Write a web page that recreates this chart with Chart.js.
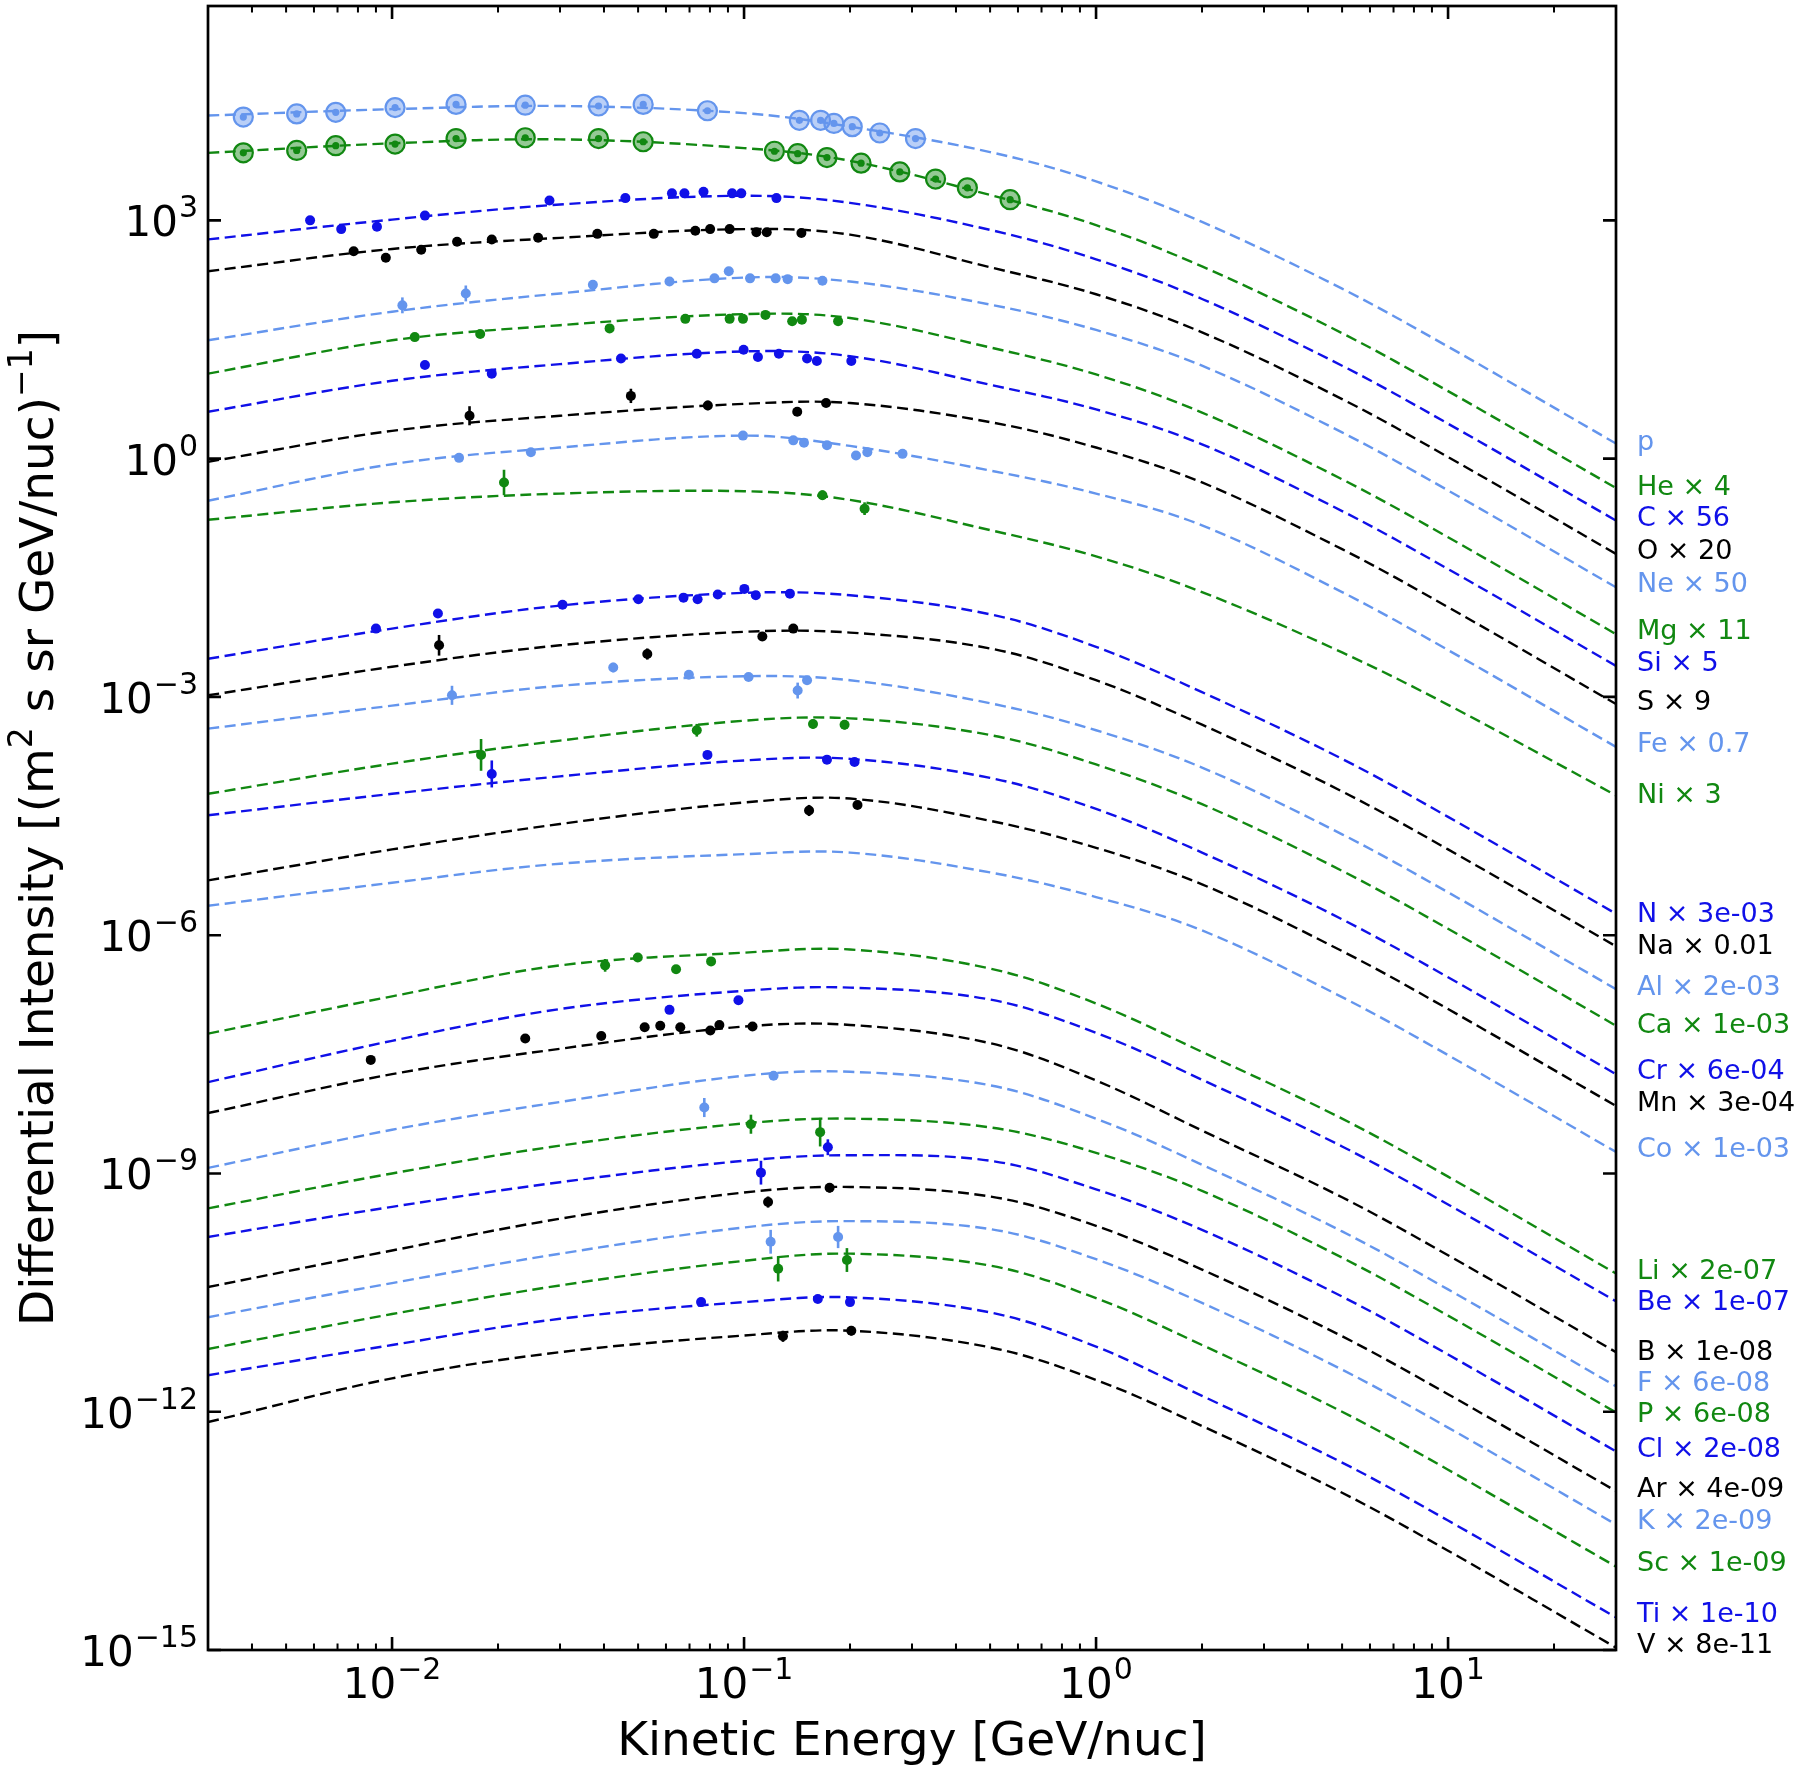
<!DOCTYPE html>
<html>
<head>
<meta charset="utf-8">
<style>
html,body{margin:0;padding:0;background:#fff;}
#wrap{width:1800px;height:1768px;position:relative;}
canvas{display:block;}
</style>
<script src="https://cdn.jsdelivr.net/npm/chart.js@4.4.1/dist/chart.umd.min.js"></script>
</head>
<body>
<div id="wrap"><canvas id="c" width="1800" height="1768"></canvas></div>
<script>
// ---------------- DATA (intensities given as log10 values) ----------------
const energyGrid = [0.003, 0.01, 0.03, 0.1, 0.2, 0.5, 1, 2, 5, 10, 30];

// Model curves: log10(intensity) at energyGrid
const curveProton = [4.32, 4.40, 4.44, 4.35, 4.18, 3.86, 3.49, 2.98, 2.14, 1.41, 0.19];
const curveHe = [3.85, 3.97, 4.02, 3.91, 3.75, 3.32, 2.94, 2.42, 1.58, 0.85, -0.37];
const curveC  = [2.76, 3.01, 3.20, 3.31, 3.22, 2.88, 2.51, 2.01, 1.17, 0.44, -0.78];
const curveO  = [2.36, 2.64, 2.78, 2.89, 2.82, 2.41, 2.07, 1.59, 0.75, 0.02, -1.20];
const curveNe = [1.49, 1.85, 2.08, 2.28, 2.23, 1.94, 1.62, 1.17, 0.33, -0.40, -1.62];
const curveMg = [1.07, 1.49, 1.68, 1.82, 1.77, 1.40, 1.06, 0.58, -0.26, -0.99, -2.21];
const curveSi = [0.59, 0.98, 1.19, 1.35, 1.29, 0.93, 0.62, 0.18, -0.66, -1.39, -2.61];
const curveS  = [-0.04, 0.35, 0.54, 0.69, 0.70, 0.46, 0.14, -0.30, -1.14, -1.87, -3.09];
const curveFe = [-0.53, -0.07, 0.14, 0.29, 0.16, -0.15, -0.44, -0.84, -1.68, -2.41, -3.63];
const curveNi = [-0.77, -0.55, -0.44, -0.41, -0.52, -0.90, -1.23, -1.68, -2.44, -3.10, -4.24];
const curveN  = [-2.52, -2.14, -1.85, -1.69, -1.72, -1.96, -2.37, -2.94, -3.78, -4.51, -5.73];
const curveNa = [-2.98, -2.62, -2.35, -2.18, -2.19, -2.39, -2.79, -3.35, -4.19, -4.92, -6.14];
const curveAl = [-3.40, -3.11, -2.86, -2.74, -2.79, -3.08, -3.42, -3.89, -4.73, -5.46, -6.68];
const curveCa = [-4.22, -3.84, -3.55, -3.30, -3.27, -3.48, -3.85, -4.35, -5.19, -5.92, -7.14];
const curveCr = [-4.49, -4.22, -4.00, -3.80, -3.78, -4.02, -4.41, -4.96, -5.80, -6.53, -7.75];
const curveMn = [-5.31, -4.92, -4.60, -4.33, -4.28, -4.56, -4.90, -5.36, -6.20, -6.93, -8.15];
const curveCo = [-5.63, -5.34, -5.10, -4.98, -4.96, -5.21, -5.52, -5.94, -6.78, -7.51, -8.73];
const curveLi = [-7.24, -6.77, -6.38, -6.22, -6.18, -6.42, -6.86, -7.47, -8.31, -9.04, -10.26];
const curveBe = [-7.85, -7.33, -6.93, -6.70, -6.66, -6.81, -7.23, -7.82, -8.66, -9.39, -10.61];
const curveB  = [-8.24, -7.75, -7.43, -7.15, -7.13, -7.36, -7.83, -8.46, -9.30, -10.03, -11.25];
const curveF  = [-8.93, -8.45, -8.10, -7.77, -7.72, -7.89, -8.31, -8.89, -9.73, -10.46, -11.68];
const curvePhos = [-9.44, -9.00, -8.65, -8.37, -8.31, -8.42, -8.74, -9.22, -10.06, -10.79, -12.01];
const curveCl = [-9.80, -9.42, -9.11, -8.84, -8.77, -8.84, -9.20, -9.71, -10.55, -11.28, -12.50];
const curveAr = [-10.43, -9.97, -9.57, -9.24, -9.17, -9.29, -9.66, -10.21, -11.05, -11.78, -13.00];
const curveK  = [-10.81, -10.38, -10.01, -9.68, -9.60, -9.70, -10.08, -10.63, -11.47, -12.20, -13.42];
const curveSc = [-11.21, -10.77, -10.41, -10.10, -10.01, -10.16, -10.57, -11.16, -12.00, -12.73, -13.95];
const curveTi = [-11.54, -11.16, -10.83, -10.62, -10.56, -10.75, -11.18, -11.80, -12.64, -13.37, -14.59];
const curveV  = [-12.13, -11.58, -11.25, -11.04, -10.98, -11.19, -11.60, -12.18, -13.02, -13.75, -14.97];

// Measurements: [energy GeV/nuc, log10(intensity), error half-width in dex]
const obsProton = [[0.00378,4.30],[0.00536,4.34],[0.00692,4.36],[0.0102,4.42],[0.0152,4.46],[0.0239,4.45],[0.0386,4.44],[0.0517,4.46],[0.0787,4.38],[0.1436,4.26],[0.165,4.26],[0.180,4.22],[0.203,4.18],[0.243,4.10],[0.307,4.03]];
const obsHe = [[0.00378,3.85],[0.00536,3.88],[0.00692,3.94],[0.0102,3.96],[0.0152,4.03],[0.0239,4.04],[0.0386,4.03],[0.0517,3.99],[0.122,3.87],[0.142,3.84],[0.172,3.79],[0.215,3.72],[0.277,3.61],[0.350,3.52],[0.431,3.41],[0.570,3.26]];
const obsC = [[0.00585,3.00],[0.00717,2.89],[0.00906,2.92],[0.0124,3.06],[0.0280,3.25],[0.0460,3.28],[0.0624,3.34],[0.0677,3.34],[0.0767,3.36],[0.0925,3.34],[0.0982,3.34],[0.1236,3.28]];
const obsO = [[0.00778,2.61],[0.00960,2.53],[0.0121,2.63],[0.0153,2.73],[0.0192,2.76],[0.0260,2.78],[0.0383,2.83],[0.0554,2.83],[0.0727,2.87],[0.0801,2.89],[0.0910,2.89],[0.1084,2.85],[0.116,2.85],[0.1455,2.84]];
const obsNe = [[0.0107,1.93,0.10],[0.0162,2.08,0.10],[0.0372,2.19],[0.0614,2.23],[0.0824,2.27],[0.0905,2.36,0.05],[0.104,2.27],[0.123,2.27],[0.133,2.26],[0.167,2.24]];
const obsMg = [[0.0116,1.53],[0.0178,1.57],[0.0415,1.64],[0.0681,1.76],[0.0910,1.76],[0.0993,1.76],[0.115,1.81],[0.137,1.73],[0.146,1.75],[0.185,1.73]];
const obsSi = [[0.0124,1.18],[0.0192,1.07],[0.0447,1.26],[0.0734,1.32],[0.0997,1.37],[0.1095,1.28],[0.1256,1.32],[0.151,1.26],[0.161,1.23],[0.2017,1.23]];
const obsS = [[0.0166,0.54,0.12],[0.0477,0.79,0.09],[0.0789,0.67,0.06],[0.1416,0.59],[0.171,0.70]];
const obsFe = [[0.0155,0.01],[0.0248,0.08],[0.0993,0.29],[0.138,0.23],[0.148,0.20],[0.172,0.17,0.05],[0.208,0.04],[0.224,0.08],[0.282,0.06]];
const obsNi = [[0.0208,-0.30,0.16],[0.167,-0.46,0.06],[0.220,-0.63,0.08]];
const obsN = [[0.0090,-2.14],[0.0135,-1.95],[0.0305,-1.84],[0.0501,-1.77],[0.0673,-1.75],[0.0738,-1.77],[0.0842,-1.71],[0.1002,-1.64],[0.108,-1.72],[0.135,-1.70]];
const obsNa = [[0.0136,-2.35,0.13],[0.0531,-2.46,0.07],[0.1127,-2.24],[0.138,-2.14]];
const obsAl = [[0.0148,-2.98,0.12],[0.0425,-2.63,0.06],[0.0697,-2.72],[0.103,-2.75],[0.142,-2.92,0.10],[0.151,-2.79]];
const obsCa = [[0.0179,-3.73,0.20],[0.0734,-3.42,0.08],[0.157,-3.34,0.06],[0.193,-3.35,0.06]];
const obsCr = [[0.0192,-3.97,0.17],[0.0787,-3.73],[0.172,-3.79],[0.206,-3.82]];
const obsMn = [[0.153,-4.43,0.07],[0.210,-4.36,0.05]];
const obsCo = [];
const obsLi = [[0.0403,-6.38,0.08],[0.0499,-6.28],[0.0641,-6.43,0.05],[0.0806,-6.33,0.05]];
const obsBe = [[0.0614,-6.94,0.05],[0.0964,-6.82]];
const obsB = [[0.0087,-7.57],[0.0239,-7.30],[0.0393,-7.27],[0.0522,-7.16],[0.0578,-7.14],[0.0659,-7.16],[0.0802,-7.20],[0.0851,-7.13],[0.1057,-7.15]];
const obsF = [[0.0771,-8.17,0.12],[0.1213,-7.77,0.05]];
const obsPhos = [[0.1046,-8.38,0.12],[0.1645,-8.48,0.18]];
const obsCl = [[0.1117,-8.99,0.15],[0.173,-8.67,0.10]];
const obsAr = [[0.117,-9.36,0.07],[0.175,-9.18,0.06]];
const obsK = [[0.119,-9.86,0.15],[0.185,-9.80,0.14]];
const obsSc = [[0.125,-10.20,0.16],[0.196,-10.09,0.15]];
const obsTi = [[0.0755,-10.62,0.05],[0.162,-10.58],[0.200,-10.62]];
const obsV = [[0.129,-11.05,0.07],[0.2017,-10.98,0.06]];

// Series labels (right margin) and the log10 intensity level each label sits at
const seriesLabels = ['p','He × 4','C × 56','O × 20','Ne × 50','Mg × 11','Si × 5','S × 9','Fe × 0.7','Ni × 3',
  'N × 3e-03','Na × 0.01','Al × 2e-03','Ca × 1e-03','Cr × 6e-04','Mn × 3e-04','Co × 1e-03',
  'Li × 2e-07','Be × 1e-07','B × 1e-08','F × 6e-08','P × 6e-08','Cl × 2e-08','Ar × 4e-09','K × 2e-09','Sc × 1e-09','Ti × 1e-10','V × 8e-11'];
const labelLevels = [0.23,-0.33,-0.72,-1.136,-1.551,-2.143,-2.546,-3.037,-3.566,-4.209,
  -5.708,-6.111,-6.627,-7.106,-7.685,-8.088,-8.668,
  -10.204,-10.595,-11.225,-11.615,-12.006,-12.447,-12.95,-13.353,-13.882,-14.524,-14.915];

// Axis ticks and titles
const yTickExps = [3, 0, -3, -6, -9, -12, -15];
const xTickExps = [-2, -1, 0, 1];
const xTitle = 'Kinetic Energy [GeV/nuc]';
const yTitleParts = [['Differential Intensity [(m', 0], ['2', 1], [' s sr GeV/nuc)', 0], ['\u22121', 1], [']', 0]];

const curves = [curveProton,curveHe,curveC,curveO,curveNe,curveMg,curveSi,curveS,curveFe,curveNi,
  curveN,curveNa,curveAl,curveCa,curveCr,curveMn,curveCo,
  curveLi,curveBe,curveB,curveF,curvePhos,curveCl,curveAr,curveK,curveSc,curveTi,curveV];
const observations = [obsProton,obsHe,obsC,obsO,obsNe,obsMg,obsSi,obsS,obsFe,obsNi,
  obsN,obsNa,obsAl,obsCa,obsCr,obsMn,obsCo,
  obsLi,obsBe,obsB,obsF,obsPhos,obsCl,obsAr,obsK,obsSc,obsTi,obsV];

// ---------------- STYLE ----------------
const palette = ['#6495ed', '#118811', '#1010e8', '#000000'];
const FONT = "'DejaVu Sans', 'Liberation Sans', sans-serif";
function rgba(hex, a) {
  const n = parseInt(hex.slice(1), 16);
  return `rgba(${(n>>16)&255},${(n>>8)&255},${n&255},${a})`;
}

const datasets = [];
curves.forEach((cv, i) => {
  const col = palette[i % 4];
  datasets.push({
    label: 'model ' + i,
    data: energyGrid.map((e, k) => ({ x: e, y: Math.pow(10, cv[k]) })),
    showLine: true, pointRadius: 0, borderColor: col, borderWidth: 2.4,
    borderDash: [11, 5.5], tension: 0.35, fill: false, order: 10
  });
});
observations.forEach((ob, i) => {
  if (!ob.length) return;
  const col = palette[i % 4];
  const pts = ob.map(p => ({ x: p[0], y: Math.pow(10, p[1]), err: p[2] || 0 }));
  if (i < 2) {
    datasets.push({ label: 'ring ' + i, data: pts, showLine: false, pointRadius: 9.5,
      pointBackgroundColor: rgba(col, 0.45), pointBorderColor: col, pointBorderWidth: 2.2, order: 1 });
    datasets.push({ label: 'dot ' + i, data: pts, showLine: false, pointRadius: 3.6,
      pointBackgroundColor: col, pointBorderWidth: 0, order: 0 });
  } else {
    datasets.push({ label: 'obs ' + i, data: pts, showLine: false, pointRadius: 5,
      pointBackgroundColor: col, pointBorderColor: col, pointBorderWidth: 0, order: 0,
      errColor: col, hasErr: true });
  }
});

const BASE_PX = 42, SUP_PX = 30, SUP_RAISE = 19;
function drawPow(ctx, exp, x, baseY, align) {
  const base = '10';
  const sup = exp < 0 ? '\u2212' + Math.abs(exp) : String(exp);
  ctx.font = `${BASE_PX}px ${FONT}`;
  const w1 = ctx.measureText(base).width;
  ctx.font = `${SUP_PX}px ${FONT}`;
  const w2 = ctx.measureText(sup).width;
  let x0 = align === 'right' ? x - w1 - w2 - 1 : x - (w1 + w2 + 1) / 2;
  ctx.textAlign = 'left'; ctx.textBaseline = 'alphabetic';
  ctx.font = `${BASE_PX}px ${FONT}`;
  ctx.fillText(base, x0, baseY);
  ctx.font = `${SUP_PX}px ${FONT}`;
  ctx.fillText(sup, x0 + w1 + 1, baseY - SUP_RAISE);
}

const decor = {
  id: 'decor',
  afterDatasetsDraw(chart) {
    const { ctx, chartArea: a, scales: { x, y } } = chart;
    ctx.save();
    ctx.beginPath(); ctx.rect(a.left, a.top, a.right - a.left, a.bottom - a.top); ctx.clip();
    chart.data.datasets.forEach(ds => {
      if (!ds.hasErr) return;
      ctx.strokeStyle = ds.errColor; ctx.lineWidth = 2.6;
      ds.data.forEach(p => {
        if (!p.err) return;
        const lv = Math.log10(p.y);
        const px = x.getPixelForValue(p.x);
        ctx.beginPath();
        ctx.moveTo(px, y.getPixelForValue(Math.pow(10, lv + p.err)));
        ctx.lineTo(px, y.getPixelForValue(Math.pow(10, lv - p.err)));
        ctx.stroke();
      });
    });
    ctx.restore();
  },
  afterDraw(chart) {
    const { ctx, chartArea: a, scales: { x, y } } = chart;
    ctx.save();
    ctx.strokeStyle = '#000'; ctx.fillStyle = '#000';
    // frame
    ctx.lineWidth = 2.7;
    ctx.strokeRect(a.left, a.top, a.right - a.left, a.bottom - a.top);
    // y major ticks (both sides, inward)
    ctx.lineWidth = 2.6;
    yTickExps.forEach(e => {
      const py = y.getPixelForValue(Math.pow(10, e));
      ctx.beginPath(); ctx.moveTo(a.left, py); ctx.lineTo(a.left + 13, py);
      ctx.moveTo(a.right, py); ctx.lineTo(a.right - 13, py); ctx.stroke();
      drawPow(ctx, e, a.left - 10, py + 16, 'right');
    });
    // x major ticks
    xTickExps.forEach(e => {
      const px = x.getPixelForValue(Math.pow(10, e));
      ctx.lineWidth = 2.6;
      ctx.beginPath(); ctx.moveTo(px, a.bottom); ctx.lineTo(px, a.bottom - 13);
      ctx.moveTo(px, a.top); ctx.lineTo(px, a.top + 13); ctx.stroke();
      drawPow(ctx, e, px, a.bottom + 48, 'center');
    });
    // x minor ticks
    ctx.lineWidth = 2;
    for (let k = -3; k <= 1; k++) {
      for (let m = 2; m <= 9; m++) {
        const v = m * Math.pow(10, k);
        if (v <= x.min * 1.0001 || v >= x.max * 0.9999) continue;
        const px = x.getPixelForValue(v);
        ctx.beginPath(); ctx.moveTo(px, a.bottom); ctx.lineTo(px, a.bottom - 6.5);
        ctx.moveTo(px, a.top); ctx.lineTo(px, a.top + 6.5); ctx.stroke();
      }
    }
    // x title
    ctx.font = `47px ${FONT}`; ctx.textAlign = 'center'; ctx.textBaseline = 'alphabetic';
    ctx.fillText(xTitle, (a.left + a.right) / 2, 1755);
    // y title (rotated, with superscripts)
    let total = 0;
    yTitleParts.forEach(p => { ctx.font = (p[1] ? '33px ' : '47px ') + FONT; total += ctx.measureText(p[0]).width; });
    ctx.save();
    ctx.translate(53, (a.top + a.bottom) / 2);
    ctx.rotate(-Math.PI / 2);
    let cx = -total / 2;
    ctx.textAlign = 'left';
    yTitleParts.forEach(p => {
      ctx.font = (p[1] ? '33px ' : '47px ') + FONT;
      ctx.fillText(p[0], cx, p[1] ? -21 : 0);
      cx += ctx.measureText(p[0]).width;
    });
    ctx.restore();
    // series labels on the right
    ctx.font = `27px ${FONT}`; ctx.textAlign = 'left'; ctx.textBaseline = 'alphabetic';
    seriesLabels.forEach((t, i) => {
      ctx.fillStyle = palette[i % 4];
      const py = y.getPixelForValue(Math.pow(10, labelLevels[i]));
      ctx.fillText(t, a.right + 21, py + 10);
    });
    ctx.restore();
  }
};

new Chart(document.getElementById('c'), {
  type: 'scatter',
  data: { datasets },
  options: {
    responsive: false, animation: false, devicePixelRatio: 1, events: [],
    layout: { autoPadding: false, padding: { left: 208, right: 184, top: 6, bottom: 118 } },
    plugins: { legend: { display: false }, tooltip: { enabled: false } },
    scales: {
      x: { type: 'logarithmic', min: 0.003, max: 30, display: false },
      y: { type: 'logarithmic', min: 1e-15, max: 5e5, display: false }
    }
  },
  plugins: [decor]
});
</script>
</body>
</html>
